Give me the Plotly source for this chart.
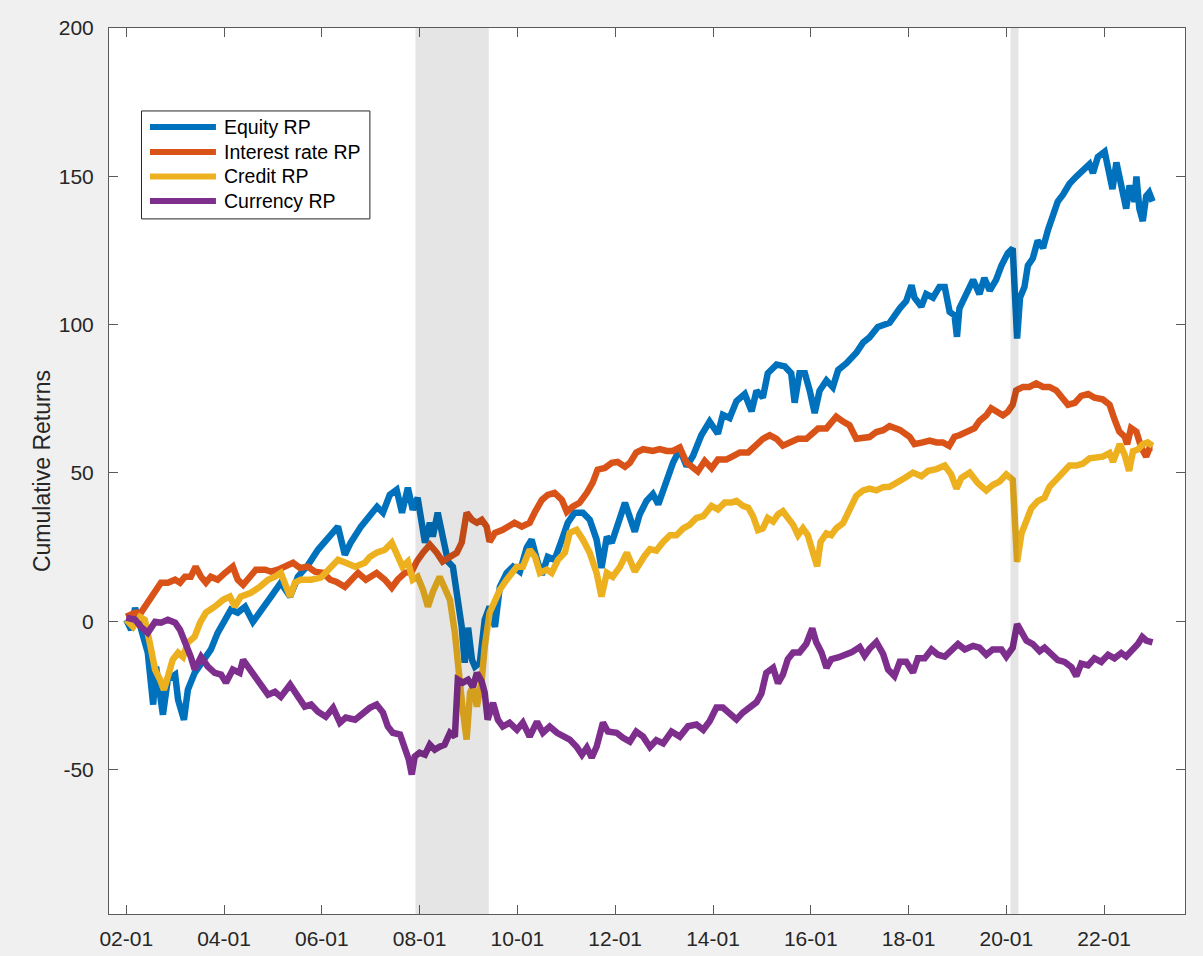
import pandas as pd
import plotly.graph_objects as go

# ---- data: cumulative returns (%) sampled by decimal year ----
equity_t = [2002.00, 2002.10, 2002.18, 2002.30, 2002.44, 2002.55, 2002.61, 2002.75, 2002.85, 2003.00,
            2003.06, 2003.18, 2003.26, 2003.40, 2003.61, 2003.73, 2003.87, 2004.02, 2004.14, 2004.28,
            2004.43, 2004.59, 2004.75, 2004.96, 2005.16, 2005.35, 2005.51, 2005.72, 2005.92, 2006.13,
            2006.33, 2006.47, 2006.59, 2006.80, 2006.98, 2007.13, 2007.25, 2007.39, 2007.53, 2007.64,
            2007.76, 2007.86, 2007.96, 2008.07, 2008.11, 2008.21, 2008.27, 2008.37, 2008.47, 2008.58,
            2008.68, 2008.76, 2008.86, 2008.92, 2008.99, 2009.07, 2009.13, 2009.23, 2009.33, 2009.43,
            2009.54, 2009.64, 2009.78, 2009.91, 2010.05, 2010.19, 2010.29, 2010.40, 2010.50, 2010.62,
            2010.76, 2010.91, 2011.03, 2011.17, 2011.34, 2011.48, 2011.62, 2011.72, 2011.83, 2011.93,
            2012.05, 2012.20, 2012.40, 2012.50, 2012.64, 2012.77, 2012.88, 2013.05, 2013.18, 2013.32,
            2013.46, 2013.59, 2013.76, 2013.93, 2014.10, 2014.20, 2014.34, 2014.48, 2014.65, 2014.79,
            2014.89, 2015.02, 2015.12, 2015.30, 2015.47, 2015.60, 2015.67, 2015.77, 2015.88, 2015.98,
            2016.08, 2016.18, 2016.32, 2016.45, 2016.56, 2016.73, 2016.93, 2017.07, 2017.20, 2017.37,
            2017.61, 2017.82, 2017.95, 2018.06, 2018.12, 2018.26, 2018.36, 2018.50, 2018.63, 2018.74,
            2018.84, 2018.94, 2018.99, 2019.04, 2019.15, 2019.25, 2019.32, 2019.45, 2019.55, 2019.66,
            2019.79, 2019.90, 2020.03, 2020.13, 2020.19, 2020.22, 2020.28, 2020.37, 2020.44, 2020.54,
            2020.64, 2020.75, 2020.85, 2020.95, 2021.05, 2021.16, 2021.29, 2021.43, 2021.56, 2021.70,
            2021.77, 2021.87, 2022.01, 2022.11, 2022.17, 2022.25, 2022.32, 2022.38, 2022.45, 2022.52,
            2022.62, 2022.66, 2022.72, 2022.79, 2022.86, 2022.92, 2022.99]
equity_v = [0.5, -2.9, 4.5, -1.9, -10.6, -28.1, -15.3, -31.5, -19.7, -18.0,
            -26.5, -33.2, -23.1, -17.4, -12.0, -9.6, -3.9, 0.5, 3.9, 2.9,
            4.9, -0.2, 3.9, 8.3, 13.0, 8.3, 15.0, 19.0, 24.1, 28.5,
            31.9, 22.4, 26.5, 31.9, 35.2, 38.6, 36.6, 42.6, 44.3, 36.6,
            45.0, 37.6, 41.6, 31.9, 26.5, 33.2, 28.5, 36.6, 27.5, 20.1,
            18.4, 8.3, -1.9, -14.0, -2.2, -13.0, -15.3, -14.0, 0.5, 4.9,
            -1.9, 11.6, 16.3, 18.4, 16.7, 24.8, 27.5, 20.7, 15.7, 21.7,
            20.7, 27.5, 33.2, 36.6, 36.6, 34.2, 27.5, 18.0, 28.5, 26.5,
            33.2, 39.9, 30.2, 36.0, 40.6, 42.9, 39.4, 47.6, 53.4, 58.0,
            52.2, 55.7, 62.7, 67.3, 63.2, 69.6, 68.5, 74.2, 76.6, 70.8,
            77.7, 75.4, 83.6, 86.5, 85.9, 83.6, 73.7, 83.6, 83.6, 77.7,
            70.2, 77.7, 81.2, 78.9, 84.7, 87.0, 90.5, 94.0, 95.7, 99.2,
            100.6, 105.5, 107.9, 113.3, 109.1, 106.1, 110.3, 109.1, 112.7, 112.7,
            104.3, 103.1, 95.9, 105.5, 109.1, 112.7, 115.1, 110.3, 115.7, 111.5,
            115.1, 119.9, 124.1, 125.7, 110.3, 95.3, 109.1, 112.7, 119.9, 122.3,
            128.3, 125.9, 131.9, 136.7, 141.5, 143.9, 147.5, 149.9, 152.3, 154.1,
            151.1, 156.5, 158.3, 151.1, 145.7, 154.7, 148.7, 143.9, 139.1, 146.9,
            141.5, 149.9, 139.1, 134.9, 143.3, 144.5, 141.5]

rates_t = [2002.00, 2002.18, 2002.30, 2002.44, 2002.59, 2002.71, 2002.85, 2003.00, 2003.10, 2003.20,
           2003.32, 2003.42, 2003.53, 2003.63, 2003.73, 2003.87, 2004.02, 2004.18, 2004.28, 2004.39,
           2004.53, 2004.65, 2004.84, 2004.96, 2005.10, 2005.24, 2005.41, 2005.55, 2005.71, 2005.86,
           2006.02, 2006.17, 2006.29, 2006.47, 2006.59, 2006.74, 2006.90, 2006.98, 2007.12, 2007.29,
           2007.43, 2007.55, 2007.70, 2007.84, 2007.94, 2008.07, 2008.21, 2008.35, 2008.47, 2008.62,
           2008.76, 2008.86, 2008.96, 2009.07, 2009.17, 2009.27, 2009.37, 2009.43, 2009.54, 2009.70,
           2009.84, 2009.94, 2010.09, 2010.25, 2010.36, 2010.50, 2010.62, 2010.76, 2010.91, 2011.01,
           2011.13, 2011.27, 2011.42, 2011.54, 2011.64, 2011.79, 2011.93, 2012.05, 2012.20, 2012.30,
           2012.43, 2012.57, 2012.77, 2012.91, 2013.05, 2013.18, 2013.32, 2013.46, 2013.56, 2013.69,
           2013.83, 2013.97, 2014.10, 2014.27, 2014.41, 2014.55, 2014.72, 2014.85, 2015.02, 2015.16,
           2015.30, 2015.43, 2015.57, 2015.74, 2015.91, 2016.01, 2016.15, 2016.32, 2016.42, 2016.52,
           2016.66, 2016.79, 2016.93, 2017.07, 2017.20, 2017.34, 2017.48, 2017.61, 2017.82, 2018.02,
           2018.12, 2018.29, 2018.43, 2018.57, 2018.70, 2018.83, 2018.94, 2019.04, 2019.21, 2019.35,
           2019.45, 2019.59, 2019.69, 2019.79, 2019.93, 2020.03, 2020.13, 2020.20, 2020.34, 2020.47,
           2020.61, 2020.75, 2020.88, 2021.02, 2021.16, 2021.26, 2021.40, 2021.53, 2021.67, 2021.80,
           2021.97, 2022.11, 2022.21, 2022.31, 2022.42, 2022.47, 2022.55, 2022.66, 2022.76, 2022.86,
           2022.93, 2022.99]
rates_v = [1.5, 2.9, 2.9, 6.2, 9.6, 13.0, 13.0, 14.0, 13.0, 15.0,
           15.0, 18.4, 15.0, 13.0, 15.0, 14.0, 16.3, 18.4, 14.0, 12.3,
           15.0, 17.4, 17.4, 16.7, 17.4, 18.4, 19.7, 18.0, 18.4, 16.7,
           16.3, 14.0, 13.3, 11.6, 14.0, 16.3, 14.0, 15.0, 16.3, 14.0,
           11.3, 14.0, 16.3, 16.7, 20.1, 23.1, 25.8, 23.1, 20.1, 21.7,
           23.1, 26.5, 36.6, 34.2, 33.2, 34.2, 31.9, 26.8, 29.8, 30.8,
           31.9, 33.2, 31.9, 33.2, 36.9, 40.9, 42.6, 43.3, 40.9, 36.9,
           38.6, 39.9, 43.3, 46.7, 51.1, 51.7, 53.4, 53.7, 52.1, 53.4,
           56.9, 58.0, 57.4, 58.0, 57.4, 57.4, 58.6, 53.4, 52.2, 50.5,
           54.0, 51.6, 54.5, 54.5, 55.7, 56.9, 56.9, 59.2, 61.5, 62.7,
           61.5, 59.2, 60.3, 61.5, 61.5, 63.2, 65.0, 65.0, 66.7, 69.0,
           67.3, 66.1, 61.5, 62.1, 62.1, 63.8, 64.4, 65.8, 64.5, 62.2,
           59.7, 60.3, 60.9, 60.3, 60.3, 59.1, 62.2, 62.7, 63.9, 65.1,
           67.5, 69.4, 71.8, 70.6, 69.4, 70.6, 73.0, 77.8, 79.0, 79.0,
           80.2, 79.0, 79.0, 77.8, 75.4, 73.0, 73.6, 76.0, 76.6, 75.4,
           74.8, 73.0, 68.1, 63.9, 62.2, 59.7, 65.1, 63.9, 58.5, 55.5,
           58.5, 58.5]

credit_t = [2002.00, 2002.14, 2002.28, 2002.38, 2002.48, 2002.59, 2002.69, 2002.77, 2002.85, 2002.95,
            2003.06, 2003.16, 2003.26, 2003.40, 2003.51, 2003.63, 2003.81, 2003.98, 2004.12, 2004.22,
            2004.34, 2004.55, 2004.73, 2004.90, 2005.04, 2005.16, 2005.35, 2005.45, 2005.57, 2005.78,
            2005.98, 2006.13, 2006.33, 2006.49, 2006.68, 2006.88, 2006.98, 2007.12, 2007.29, 2007.43,
            2007.55, 2007.65, 2007.76, 2007.86, 2007.96, 2008.07, 2008.17, 2008.27, 2008.41, 2008.51,
            2008.62, 2008.72, 2008.78, 2008.88, 2008.96, 2009.03, 2009.09, 2009.17, 2009.27, 2009.33,
            2009.43, 2009.54, 2009.64, 2009.78, 2009.88, 2009.99, 2010.11, 2010.25, 2010.36, 2010.46,
            2010.60, 2010.70, 2010.83, 2010.97, 2011.07, 2011.21, 2011.34, 2011.48, 2011.62, 2011.72,
            2011.83, 2011.95, 2012.10, 2012.24, 2012.40, 2012.50, 2012.60, 2012.71, 2012.84, 2012.98,
            2013.12, 2013.25, 2013.39, 2013.52, 2013.66, 2013.80, 2013.97, 2014.10, 2014.24, 2014.38,
            2014.48, 2014.61, 2014.72, 2014.82, 2014.92, 2015.02, 2015.12, 2015.23, 2015.33, 2015.43,
            2015.53, 2015.64, 2015.74, 2015.84, 2015.94, 2016.01, 2016.08, 2016.13, 2016.20, 2016.32,
            2016.42, 2016.52, 2016.66, 2016.79, 2016.93, 2017.07, 2017.20, 2017.34, 2017.48, 2017.61,
            2017.75, 2017.92, 2018.09, 2018.26, 2018.40, 2018.57, 2018.74, 2018.87, 2018.98, 2019.08,
            2019.25, 2019.42, 2019.59, 2019.72, 2019.86, 2020.00, 2020.13, 2020.19, 2020.22, 2020.31,
            2020.41, 2020.51, 2020.64, 2020.78, 2020.88, 2021.02, 2021.16, 2021.29, 2021.43, 2021.56,
            2021.70, 2021.84, 2021.97, 2022.11, 2022.18, 2022.32, 2022.42, 2022.51, 2022.59, 2022.69,
            2022.79, 2022.89, 2022.99]
credit_v = [0.5, -1.9, 1.5, 0.5, -7.2, -16.3, -19.7, -23.1, -18.7, -13.0,
            -10.6, -12.0, -7.2, -5.2, -0.5, 2.9, 4.9, 7.2, 8.3, 4.9,
            8.3, 9.6, 11.6, 14.0, 15.0, 16.3, 8.3, 13.0, 14.0, 14.0,
            14.7, 17.4, 20.7, 19.7, 18.4, 19.7, 21.7, 23.1, 24.1, 26.5,
            21.7, 18.4, 20.1, 14.0, 15.0, 10.6, 4.9, 9.9, 15.0, 10.6,
            7.2, -3.9, -15.3, -29.8, -39.9, -24.1, -22.1, -28.8, -19.7, -8.6,
            2.9, 7.2, 10.6, 14.0, 16.3, 18.4, 18.4, 24.1, 21.7, 16.3,
            17.4, 16.3, 20.7, 23.1, 29.8, 30.8, 27.5, 23.1, 16.3, 8.3,
            16.3, 15.0, 18.4, 23.1, 16.8, 19.7, 22.0, 24.3, 23.8, 26.7,
            29.0, 29.0, 31.3, 32.5, 34.8, 35.4, 38.9, 37.7, 40.0, 40.0,
            40.6, 38.9, 38.3, 35.4, 30.7, 31.3, 34.8, 33.6, 36.0, 37.1,
            34.8, 32.5, 29.0, 31.3, 29.0, 25.5, 20.9, 18.5, 26.7, 29.6,
            29.0, 31.3, 33.1, 37.1, 42.3, 44.1, 44.7, 44.1, 45.2, 45.3,
            46.5, 48.3, 50.1, 48.9, 50.7, 51.3, 52.5, 49.5, 44.7, 48.3,
            50.1, 46.5, 44.1, 45.9, 47.1, 49.5, 47.7, 33.2, 20.0, 29.6,
            34.4, 38.1, 40.5, 41.7, 45.3, 47.7, 50.7, 52.5, 52.5, 53.1,
            54.9, 55.5, 55.5, 56.7, 53.7, 59.7, 56.1, 50.7, 57.3, 57.9,
            59.7, 60.3, 59.1]

currency_t = [2002.00, 2002.18, 2002.30, 2002.44, 2002.59, 2002.71, 2002.85, 2003.00, 2003.10, 2003.22,
              2003.32, 2003.40, 2003.53, 2003.67, 2003.81, 2003.94, 2004.04, 2004.18, 2004.32, 2004.39,
              2004.53, 2004.65, 2004.79, 2004.90, 2005.04, 2005.16, 2005.35, 2005.47, 2005.65, 2005.78,
              2005.92, 2006.08, 2006.23, 2006.37, 2006.49, 2006.68, 2006.84, 2006.98, 2007.12, 2007.25,
              2007.35, 2007.45, 2007.60, 2007.70, 2007.78, 2007.84, 2007.90, 2008.00, 2008.11, 2008.21,
              2008.31, 2008.41, 2008.51, 2008.62, 2008.72, 2008.78, 2008.88, 2008.99, 2009.09, 2009.17,
              2009.27, 2009.33, 2009.39, 2009.50, 2009.60, 2009.70, 2009.84, 2009.99, 2010.11, 2010.25,
              2010.40, 2010.52, 2010.66, 2010.81, 2010.93, 2011.07, 2011.21, 2011.32, 2011.42, 2011.52,
              2011.62, 2011.75, 2011.85, 2012.03, 2012.16, 2012.30, 2012.43, 2012.57, 2012.71, 2012.84,
              2012.98, 2013.15, 2013.32, 2013.49, 2013.66, 2013.80, 2013.93, 2014.07, 2014.20, 2014.34,
              2014.48, 2014.61, 2014.75, 2014.89, 2014.99, 2015.09, 2015.23, 2015.33, 2015.43, 2015.53,
              2015.64, 2015.77, 2015.91, 2016.03, 2016.11, 2016.22, 2016.32, 2016.42, 2016.56, 2016.69,
              2016.83, 2017.00, 2017.10, 2017.20, 2017.34, 2017.48, 2017.58, 2017.71, 2017.82, 2017.95,
              2018.09, 2018.19, 2018.33, 2018.47, 2018.60, 2018.74, 2018.87, 2019.01, 2019.15, 2019.32,
              2019.45, 2019.59, 2019.72, 2019.90, 2020.00, 2020.13, 2020.22, 2020.31, 2020.41, 2020.54,
              2020.68, 2020.78, 2020.92, 2021.05, 2021.19, 2021.33, 2021.43, 2021.53, 2021.67, 2021.80,
              2021.94, 2022.08, 2022.21, 2022.35, 2022.45, 2022.59, 2022.69, 2022.78, 2022.86, 2022.99]
currency_v = [1.2, 0.5, -1.9, -3.9, -0.2, -0.5, 0.5, -0.5, -2.9, -7.2,
              -12.0, -16.3, -12.0, -15.3, -17.4, -18.0, -20.7, -16.3, -17.4, -13.0,
              -16.3, -18.7, -22.1, -24.8, -23.8, -25.5, -21.4, -24.1, -28.8, -28.1,
              -30.5, -32.2, -29.2, -34.2, -32.5, -33.2, -30.8, -29.2, -28.1, -30.8,
              -35.5, -37.6, -38.2, -42.3, -46.7, -51.7, -45.6, -44.3, -45.0, -41.6,
              -43.3, -42.3, -41.6, -37.6, -38.9, -19.7, -20.7, -19.7, -22.1, -17.4,
              -20.4, -24.1, -33.2, -27.5, -33.2, -35.5, -34.2, -36.6, -34.2, -38.9,
              -33.9, -37.6, -35.5, -37.6, -38.9, -39.9, -42.3, -45.0, -42.6, -46.0,
              -42.3, -34.2, -37.2, -37.6, -39.3, -40.6, -37.2, -38.9, -42.4, -40.1,
              -41.2, -37.2, -38.9, -35.4, -34.8, -36.6, -33.7, -29.1, -29.1, -30.8,
              -33.1, -30.8, -29.1, -27.3, -24.4, -17.4, -15.7, -20.9, -18.0, -12.8,
              -10.5, -10.5, -7.6, -2.4, -7.0, -10.5, -15.7, -12.8, -12.2, -11.6,
              -10.5, -8.7, -11.6, -9.3, -7.0, -11.1, -16.3, -18.5, -13.7, -13.7,
              -17.3, -12.5, -12.5, -9.5, -11.3, -11.9, -10.1, -7.7, -9.5, -8.3,
              -8.9, -11.3, -9.5, -9.5, -11.9, -8.9, -1.0, -3.5, -6.5, -7.7,
              -10.1, -8.9, -11.3, -13.1, -13.7, -15.5, -18.5, -14.3, -14.9, -12.5,
              -13.7, -11.3, -12.5, -10.7, -11.9, -9.5, -7.7, -5.3, -6.5, -7.1]

series_names = ["Equity RP", "Interest rate RP", "Credit RP", "Currency RP"]
series_colors = ["#0072BD", "#D95319", "#EDB120", "#7E2F8E"]

# recession periods shaded on the chart
recession_start = ["2007-12-01", "2020-02-01"]
recession_end = ["2009-06-01", "2020-04-01"]

y_ticks = [-50, 0, 50, 100, 150, 200]
y_tick_labels = ["-50", "0", "50", "100", "150", "200"]


def to_date(dec_year):
    yr = int(dec_year)
    start = pd.Timestamp(year=yr, month=1, day=1)
    end = pd.Timestamp(year=yr + 1, month=1, day=1)
    return start + (dec_year - yr) * (end - start)


# ---- figure geometry (pixels) ----
W, H = 1203, 956
ML, MR, MT, MB = 109, 17.5, 28, 41.5
PW, PH = W - ML - MR, H - MT - MB


def px_x(px):
    return (px - ML) / PW


def px_y(py):
    return (H - MB - py) / PH


FONT = "Liberation Sans, Arial, sans-serif"

fig = go.Figure()
series = [(equity_t, equity_v), (rates_t, rates_v), (credit_t, credit_v), (currency_t, currency_v)]
for (t, v), name, color in zip(series, series_names, series_colors):
    fig.add_trace(go.Scatter(
        x=[to_date(d) for d in t], y=v, mode="lines", name=name,
        line=dict(color=color, width=6.5), showlegend=False,
    ))

# shaded recessions drawn over the lines (semi-transparent)
for s, e in zip(recession_start, recession_end):
    fig.add_shape(type="rect", xref="x", yref="paper", x0=s, x1=e, y0=0, y1=1,
                  fillcolor="rgba(0,0,0,0.10)", line=dict(width=0), layer="above")

# legend box
lg_left, lg_right, lg_top, lg_bottom = 141.5, 370, 111, 219
fig.add_shape(type="rect", xref="paper", yref="paper",
              x0=px_x(lg_left), x1=px_x(lg_right), y0=px_y(lg_bottom), y1=px_y(lg_top),
              fillcolor="white", line=dict(color="#262626", width=1), layer="above")
row_y = [127, 152, 176.5, 201]
for ry, name, color in zip(row_y, series_names, series_colors):
    fig.add_shape(type="line", xref="paper", yref="paper",
                  x0=px_x(150), x1=px_x(216), y0=px_y(ry), y1=px_y(ry),
                  line=dict(color=color, width=6), layer="above")
    fig.add_annotation(xref="paper", yref="paper", x=px_x(222), y=px_y(ry),
                       text=name, showarrow=False, xanchor="left", yanchor="middle",
                       font=dict(family=FONT, size=19.5, color="#000000"))

# y-axis title
fig.add_annotation(xref="paper", yref="paper", x=px_x(42), y=0.5, text="Cumulative Returns",
                   textangle=-90, showarrow=False, xanchor="center", yanchor="middle",
                   font=dict(family=FONT, size=23, color="#262626"))

x_min = to_date(2001.6463)
x_max = to_date(2023.654)

axis_common = dict(
    showline=True, linecolor="#5a5a5a", linewidth=1, mirror="ticks",
    ticks="inside", ticklen=9, tickwidth=1, tickcolor="#5a5a5a",
    showgrid=False, zeroline=False,
    tickfont=dict(family=FONT, size=21, color="#262626"),
)

fig.update_xaxes(range=[x_min, x_max], tick0="2002-01-01", dtick="M24", tickformat="%y-%m",
                 ticklabelstandoff=6, **axis_common)
fig.update_yaxes(range=[-98.7, 200], tickvals=y_ticks, ticktext=y_tick_labels,
                 ticklabelstandoff=10, **axis_common)

fig.update_layout(
    width=W, height=H,
    margin=dict(l=ML, r=MR, t=MT, b=MB, autoexpand=False),
    paper_bgcolor="#f0f0f0", plot_bgcolor="white",
    showlegend=False,
)

fig.write_html("out.html")
